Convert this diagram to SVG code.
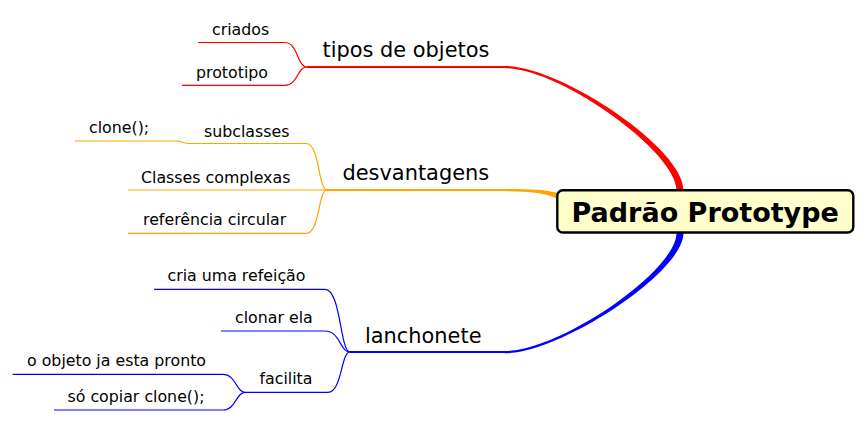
<svg xmlns="http://www.w3.org/2000/svg" width="866" height="424" viewBox="0 0 866 424">
<style>
text{font-family:"DejaVu Sans","Liberation Sans",sans-serif;fill:#000}
.leaf{font-size:15.8px}
.branch{font-size:20.9px}
.root{font-size:27px;font-weight:bold}
.thin{fill:none;stroke-width:1.2}
.main{fill:none;stroke-width:2.2}
.r{stroke:#ff0000}
.o{stroke:#ffa500}
.b{stroke:#0000ff}
</style>
<rect width="866" height="424" fill="#ffffff"/>
<g id="connectors">
  <!-- root to branches (tapered) -->
  <path d="M505,66 C560,66 683.5,148 683.5,190 L676.5,190 C676.5,152 560,68.2 505,68.2 Z" fill="#ff0000"/>
  <path d="M505,188.9 C530,188.9 546,189.5 558,193 L558,199 C545,193 530,191.3 505,191.3 Z" fill="#ffa500"/>
  <path d="M505,353.3 C560,353.3 683.5,273 683.5,233 L676.5,233 C676.5,271 560,351 505,351 Z" fill="#0000ff"/>
  <!-- tipos de objetos -->
  <path class="main r" d="M307,67 H506"/>
  <path class="thin r" d="M198,42.5 H285 C298,42.5 297,67 307,67"/>
  <path class="thin r" d="M182,85.3 H285 C298,85.3 297,67 307,67"/>
  <!-- desvantagens -->
  <path class="main o" d="M327,190 H506"/>
  <path class="thin o" d="M188,143.5 H306 C320,143.5 318,190 327,190"/>
  <path class="thin o" d="M75,141 H176 C182,141 183,143.5 189,143.5"/>
  <path class="thin o" d="M128,190 H327"/>
  <path class="thin o" d="M128,233.3 H306 C320,233.3 318,190 327,190"/>
  <!-- lanchonete -->
  <path class="main b" d="M350,352 H506"/>
  <path class="thin b" d="M154,289.3 H325 C341,289.3 340,352 350,352"/>
  <path class="thin b" d="M221,331 H325 C340,331 340,352 350,352"/>
  <path class="thin b" d="M245,392.3 H328 C342,392.3 341,352 350,352"/>
  <path class="thin b" d="M12.7,374.3 H223 C236,374.3 236,392.3 245,392.3"/>
  <path class="thin b" d="M54,410 H223 C236,410 236,392.3 245,392.3"/>
</g>
<g id="root">
  <rect x="557.3" y="190.3" width="296" height="42.2" rx="5.5" ry="5.5" fill="#ffffcc" stroke="#000" stroke-width="2.4"/>
  <text class="root" x="571.5" y="221.8">Padrão Prototype</text>
</g>
<g id="n-tipos"><text class="branch" x="322.5" y="56.7">tipos de objetos</text></g>
<g id="n-criados"><text class="leaf" x="212" y="35">criados</text></g>
<g id="n-prototipo"><text class="leaf" x="196" y="77.5">prototipo</text></g>
<g id="n-desvantagens"><text class="branch" x="342.5" y="179.5">desvantagens</text></g>
<g id="n-subclasses"><text class="leaf" x="204" y="136.7">subclasses</text></g>
<g id="n-clone1"><text class="leaf" x="89" y="133">clone();</text></g>
<g id="n-complexas"><text class="leaf" x="141" y="182.7">Classes complexas</text></g>
<g id="n-circular"><text class="leaf" x="143" y="225">referência circular</text></g>
<g id="n-lanchonete"><text class="branch" x="365" y="342.7">lanchonete</text></g>
<g id="n-cria"><text class="leaf" x="167.5" y="280.7">cria uma refeição</text></g>
<g id="n-clonar"><text class="leaf" x="235" y="323.3">clonar ela</text></g>
<g id="n-facilita"><text class="leaf" x="259.5" y="384">facilita</text></g>
<g id="n-pronto"><text class="leaf" x="27" y="366">o objeto ja esta pronto</text></g>
<g id="n-copiar"><text class="leaf" x="67.5" y="401.7">só copiar clone();</text></g>
</svg>
